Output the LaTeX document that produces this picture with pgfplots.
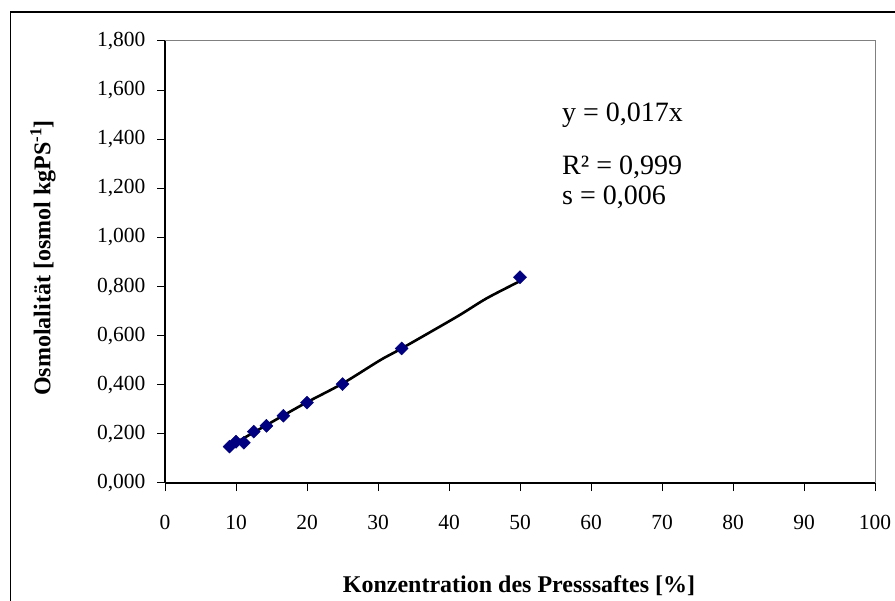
\documentclass[border=0pt]{standalone}
\usepackage{fontspec}
\setmainfont{Liberation Serif}
\usepackage{pgfplots}
\pgfplotsset{compat=1.18}

\definecolor{excelnavy}{RGB}{0,0,128}

\begin{document}
\begin{tikzpicture}
\path[use as bounding box] (0,0) rectangle (895bp,601bp);
\clip (0,0) rectangle (895bp,601bp);
% chart frame
\draw[line width=1.2bp] (10.5bp,-20bp) |- (920bp,589bp);

\begin{axis}[
    at={(165bp,118bp)}, anchor=south west,
    scale only axis, width=710bp, height=442bp,
    xmin=0, xmax=100, ymin=0, ymax=1.8,
    axis x line*=bottom, axis y line*=left,
    axis line style={black, line width=1.2bp, -},
    tick style={black, line width=1bp},
    tick align=outside, major tick length=8bp,
    xtick={0,10,20,30,40,50,60,70,80,90,100},
    ytick={0,0.2,0.4,0.6,0.8,1.0,1.2,1.4,1.6,1.8},
    yticklabels={{0,000},{0,200},{0,400},{0,600},{0,800},{1,000},{1,200},{1,400},{1,600},{1,800}},
    /pgf/number format/assume math mode=true,
    ticklabel style={font=\fontsize{21.5bp}{24bp}\selectfont},
    xticklabel style={yshift=-21bp},
    yticklabel style={xshift=-8bp},
    clip=false,
]
\draw[gray, line width=1bp] (rel axis cs:0,1) -- (rel axis cs:1,1) -- (rel axis cs:1,0);

% trend line
\addplot[black, line width=2.6bp, no markers, smooth] coordinates {
    (9.09,0.150) (12.5,0.206) (16.67,0.275) (20,0.329) (25,0.405)
    (30.3,0.500) (33.33,0.548) (41.1,0.677) (45.3,0.752) (50,0.822)
};

% measured values
\addplot[only marks, mark=square*, mark size=4.6bp,
    mark options={rotate=45, fill=excelnavy, draw=excelnavy}] coordinates {
    (9.09,0.148) (10,0.168) (11.11,0.164) (12.5,0.209) (14.29,0.233)
    (16.67,0.274) (20,0.327) (25,0.403) (33.33,0.548) (50,0.838)
};
\end{axis}

\node[anchor=base, inner sep=0, font=\fontsize{24bp}{28bp}\selectfont\bfseries]
    at (519bp,9bp) {Konzentration des Presssaftes [\%]};
\node[rotate=90, inner sep=0, font=\fontsize{24bp}{28bp}\selectfont\bfseries]
    at (43bp,343bp) {Osmolalität [osmol kgPS\textsuperscript{-1}]};

\node[anchor=base west, inner sep=0, font=\fontsize{28bp}{32bp}\selectfont]
    at (562bp,479bp) {y = 0,017x};
\node[anchor=base west, inner sep=0, font=\fontsize{28bp}{32bp}\selectfont]
    at (562bp,426bp) {R² = 0,999};
\node[anchor=base west, inner sep=0, font=\fontsize{28bp}{32bp}\selectfont]
    at (562bp,396bp) {s = 0,006};
\end{tikzpicture}
\end{document}
